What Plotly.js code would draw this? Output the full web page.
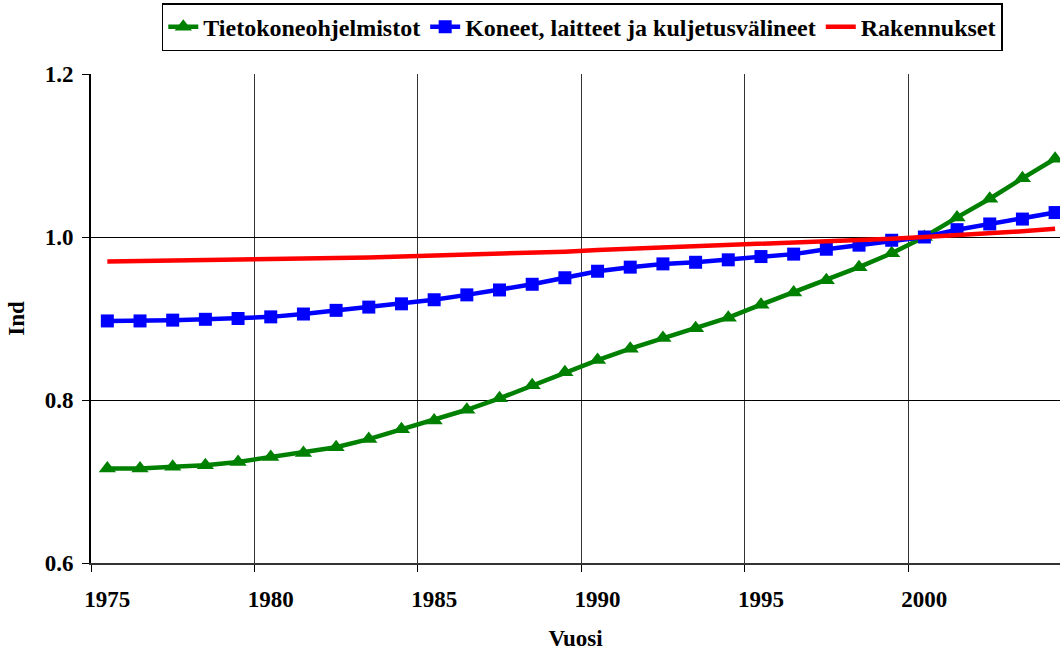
<!DOCTYPE html>
<html>
<head>
<meta charset="utf-8">
<script src="https://cdn.plot.ly/plotly-3.0.1.min.js"></script>
<style>html,body{margin:0;padding:0;background:#fff;}#chart{width:1062px;height:651px;}</style>
</head>
<body>
<div id="chart"></div>
<script>
const years = [1975,1976,1977,1978,1979,1980,1981,1982,1983,1984,1985,1986,1987,1988,1989,1990,1991,1992,1993,1994,1995,1996,1997,1998,1999,2000,2001,2002,2003,2004];
const tietokoneohjelmistot = [0.716,0.716,0.718,0.720,0.724,0.730,0.735,0.742,0.752,0.764,0.775,0.788,0.802,0.818,0.834,0.849,0.863,0.876,0.888,0.901,0.917,0.932,0.947,0.963,0.980,1.000,1.024,1.047,1.072,1.096];
const koneet = [0.897,0.897,0.898,0.899,0.900,0.902,0.9055,0.910,0.914,0.918,0.923,0.929,0.935,0.942,0.950,0.958,0.963,0.967,0.969,0.972,0.976,0.979,0.985,0.990,0.996,1.000,1.009,1.016,1.022,1.030];
const rakennukset = [0.970,0.9705,0.971,0.9715,0.972,0.973,0.9735,0.974,0.975,0.976,0.977,0.978,0.979,0.980,0.982,0.984,0.9855,0.987,0.988,0.9895,0.991,0.9925,0.994,0.996,0.998,1.000,1.002,1.005,1.007,1.010];
const seriesNames = ["Tietokoneohjelmistot","Koneet, laitteet ja kuljetusvälineet","Rakennukset"];
const tickYears = [1975,1980,1985,1990,1995,2000];
const tickLabels = ["1975","1980","1985","1990","1995","2000"];
const boundaries = tickYears.map(y => y - 0.5);
const xTitle = "Vuosi";
const yTitle = "Ind";

const FONT = "'Times New Roman', 'Liberation Serif', serif";
const FS = 23;
const xRange = [1974.5, 2004.15];

const traces = [
  {x: years, y: tietokoneohjelmistot, name: seriesNames[0], type: 'scatter', mode: 'lines+markers',
   line: {color: '#008000', width: 4.5}, marker: {symbol: 'triangle-up', size: 15, color: '#008000'}},
  {x: years, y: koneet, name: seriesNames[1], type: 'scatter', mode: 'lines+markers',
   line: {color: '#0000ff', width: 4.5}, marker: {symbol: 'square', size: 13, color: '#0000ff'}},
  {x: years, y: rakennukset, name: seriesNames[2], type: 'scatter', mode: 'lines',
   line: {color: '#ff0000', width: 4.5}},
  {x: [years[0]], y: [rakennukset[0]], xaxis: 'x2', type: 'scatter', mode: 'markers',
   marker: {opacity: 0}, showlegend: false, hoverinfo: 'skip'}
];

const layout = {
  width: 1062, height: 651,
  paper_bgcolor: '#fff', plot_bgcolor: '#fff',
  margin: {l: 91, r: 2, t: 74, b: 88},
  font: {family: FONT, size: FS, color: '#000', weight: 'bold'},
  showlegend: true,
  legend: {orientation: 'h', x: 0.507, xanchor: 'center', y: 1.145, yanchor: 'top',
           bordercolor: '#000', borderwidth: 1.5, bgcolor: '#fff',
           font: {family: FONT, size: 24, color: '#000', weight: 'bold'},
           tracegroupgap: 0, itemwidth: 30},
  xaxis: {range: xRange, tickmode: 'array', tickvals: boundaries, showticklabels: false,
          ticks: 'outside', ticklen: 7, tickcolor: '#000', tickwidth: 1,
          showgrid: true, gridcolor: '#333', gridwidth: 1,
          showline: true, linecolor: '#333', linewidth: 2, zeroline: false},
  xaxis2: {range: xRange, overlaying: 'x', side: 'bottom', tickmode: 'array', tickvals: tickYears,
           ticktext: tickLabels, ticks: '', showgrid: false, showline: false, zeroline: false,
           ticklabelstandoff: 20,
           tickfont: {family: FONT, size: FS, weight: 'bold', color: '#000'},
           title: {text: xTitle, font: {family: FONT, size: FS, weight: 'bold'}, standoff: 18}},
  yaxis: {range: [0.6, 1.2], tickmode: 'array', tickvals: [0.6, 0.8, 1.0, 1.2], tickformat: '.1f',
          ticks: 'outside', ticklen: 7, tickcolor: '#000', tickwidth: 1,
          showgrid: true, gridcolor: '#000', gridwidth: 1,
          showline: true, linecolor: '#000', linewidth: 2, zeroline: false,
          ticklabelstandoff: 4,
          tickfont: {family: FONT, size: FS, weight: 'bold', color: '#000'},
          title: {text: yTitle, font: {family: FONT, size: FS, weight: 'bold'}, standoff: 14}}
};

Plotly.newPlot('chart', traces, layout, {displayModeBar: false, staticPlot: true});
</script>
</body>
</html>
